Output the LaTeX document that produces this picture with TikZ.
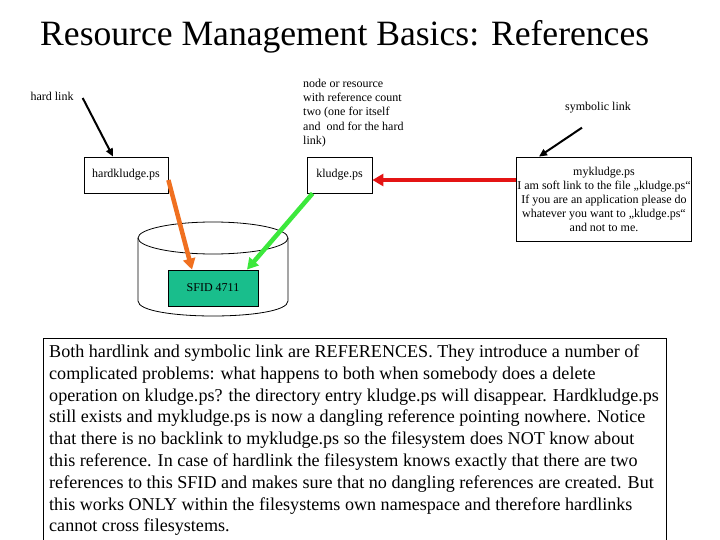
\documentclass[tikz,border=0pt]{standalone}
\usepackage{fontspec}
\setmainfont{Liberation Serif}
\usetikzlibrary{arrows.meta}
\definecolor{sfidfill}{RGB}{25,190,140}
\definecolor{hardarrow}{RGB}{240,112,32}
\definecolor{softarrow}{RGB}{60,232,60}
\definecolor{symarrow}{RGB}{228,20,20}
\tikzset{
  smalltext/.style={font=\fontsize{12}{14.4}\selectfont, inner sep=0pt},
  filebox/.style={draw, line width=0.8pt, font=\fontsize{12}{14}\selectfont, inner sep=1pt, align=center},
  pointer/.style={draw, line width=2pt, -{Triangle[length=8pt,width=7pt]}},
  linkarrow/.style={draw, line width=4.5pt, -{Triangle[length=11pt,width=12pt]}},
}
\begin{document}
\begin{tikzpicture}[x=1pt,y=-1pt]
\useasboundingbox (0,0) rectangle (720,540);
\fill[white] (0,0) rectangle (720,540);
% title
\node[anchor=base west, inner sep=0pt, font=\fontsize{35.6}{40}\selectfont] (title) at (40,46) {Resource Management Basics: References};
% labels
\node[smalltext] (hl) at (52,96) {hard link};
\node[smalltext, anchor=north west, align=left] (note) at (303,78.5) {node or resource\\with reference count\\two (one for itself\\and\ \ ond for the hard\\link)};
\node[smalltext] (sl) at (598,108) {symbolic link};
% boxes
\node[filebox, minimum width=84pt, minimum height=36pt] (hk) at (126,175) {hardkludge.ps};
\node[filebox, minimum width=65pt, minimum height=36pt] (kl) at (339.5,175) {kludge.ps};
\node[filebox, minimum width=174pt, minimum height=84pt] (myk) at (604,199) {mykludge.ps\\I am soft link to the file „kludge.ps“\\If you are an application please do\\whatever you want to „kludge.ps“\\and not to me.};
% cylinder
\draw[line width=0.8pt] (213,238) ellipse [x radius=75pt, y radius=16pt];
\draw[line width=0.8pt] (138,238) -- (138,301) .. controls (138,321) and (288,321) .. (288,301) -- (288,238);
\node[filebox, fill=sfidfill, minimum width=90pt, minimum height=36pt] (sfid) at (213,288) {SFID 4711};
% arrows
\draw[pointer] ([xshift=9pt,yshift=-2pt]hl.east) -- ([xshift=-13pt]hk.north);
\draw[pointer] ([xshift=-16pt,yshift=-14pt]sl.south) -- ([xshift=23pt]myk.north west);
\draw[linkarrow, draw=hardarrow, fill=hardarrow] ([yshift=-5pt]hk.east) -- ([xshift=-21pt]sfid.north);
\draw[linkarrow, draw=softarrow, fill=softarrow] ([xshift=6pt]kl.south west) -- ([xshift=34pt]sfid.north);
\draw[linkarrow, draw=symarrow, fill=symarrow] ([yshift=19pt]myk.west) -- ([yshift=19pt]myk.west -| kl.east);
% explanation box
\draw[line width=0.8pt] (43,545) -- (43,338) -- (666,338) -- (666,545);
\node[anchor=north west, inner sep=0pt, align=left, font=\fontsize{18.1}{21.8}\selectfont] (expl) at (49,344.5) {Both hardlink and symbolic link are REFERENCES. They introduce a number of\\complicated problems: what happens to both when somebody does a delete\\operation on kludge.ps? the directory entry kludge.ps will disappear. Hardkludge.ps\\still exists and mykludge.ps is now a dangling reference pointing nowhere. Notice\\that there is no backlink to mykludge.ps so the filesystem does NOT know about\\this reference. In case of hardlink the filesystem knows exactly that there are two\\references to this SFID and makes sure that no dangling references are created. But\\this works ONLY within the filesystems own namespace and therefore hardlinks\\cannot cross filesystems.};
\end{tikzpicture}
\end{document}
